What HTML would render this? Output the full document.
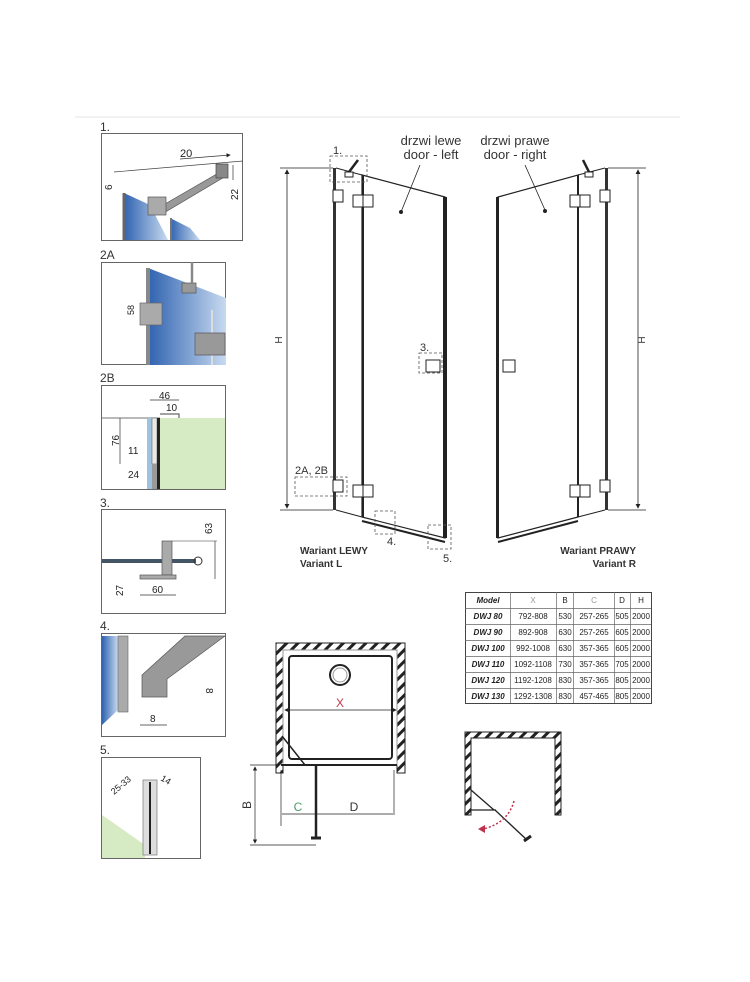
<!DOCTYPE html>
<html><head><meta charset="utf-8"><style>
html,body{margin:0;padding:0;background:#fff}
svg{display:block}
text{font-family:"Liberation Sans",sans-serif}
</style></head><body>
<svg width="750" height="982" viewBox="0 0 750 982" xmlns="http://www.w3.org/2000/svg">
<defs>
<linearGradient id="glass" x1="0" y1="0" x2="1" y2="0">
<stop offset="0" stop-color="#2f62b0"/><stop offset="1" stop-color="#c8daf0"/></linearGradient>
<pattern id="hatch" width="8" height="8" patternUnits="userSpaceOnUse" patternTransform="rotate(45)">
<rect width="8" height="8" fill="#fff"/><rect width="3" height="8" fill="#222"/></pattern>
<marker id="ar" markerWidth="6" markerHeight="6" refX="5" refY="3" orient="auto"><path d="M0,0 L6,3 L0,6z" fill="#222"/></marker>
<marker id="ars" markerWidth="6" markerHeight="6" refX="1" refY="3" orient="auto"><path d="M6,0 L0,3 L6,6z" fill="#222"/></marker>
</defs>
<line x1="75" y1="117" x2="680" y2="117" stroke="#e6e6e6" stroke-width="1"/>

<!-- Panel 1 -->
<text x="100" y="131" font-size="12" fill="#333">1.</text>
<rect x="101.5" y="133.5" width="141" height="107" fill="#fff" stroke="#666"/>
<polygon points="124,193 150,205 168,240 124,240" fill="url(#glass)"/>
<polygon points="170,218 190,228 200,240 170,240" fill="url(#glass)"/>
<line x1="124" y1="193" x2="124" y2="240" stroke="#666" stroke-width="3"/>
<line x1="171" y1="218" x2="171" y2="240" stroke="#777" stroke-width="2"/>
<line x1="114" y1="172" x2="243" y2="161" stroke="#444" stroke-width="0.7"/>
<polygon points="158,208 222,171 226,176 162,214" fill="#999" stroke="#555" stroke-width="0.7"/>
<rect x="148" y="197" width="18" height="18" fill="#aaa" stroke="#555" stroke-width="0.7"/>
<rect x="216" y="164" width="12" height="14" fill="#888" stroke="#444" stroke-width="0.7"/>
<line x1="180" y1="159" x2="230" y2="155" stroke="#333" stroke-width="0.7" marker-end="url(#ar)"/>
<text x="180" y="157" font-size="11" fill="#222">20</text>
<text x="112" y="190" font-size="10" fill="#222" transform="rotate(-90 112 190)">6</text>
<line x1="233" y1="165" x2="233" y2="180" stroke="#333" stroke-width="0.7"/>
<text x="238" y="200" font-size="10" fill="#222" transform="rotate(-90 238 200)">22</text>

<!-- Panel 2A -->
<text x="100" y="259" font-size="12" fill="#333">2A</text>
<rect x="101.5" y="262.5" width="124" height="102" fill="#fff" stroke="#666"/>
<polygon points="148,268 226,298 226,365 148,365" fill="url(#glass)"/>
<line x1="148" y1="268" x2="148" y2="365" stroke="#888" stroke-width="4"/>
<line x1="212" y1="310" x2="212" y2="365" stroke="#ddd" stroke-width="2"/>
<rect x="140" y="303" width="22" height="22" fill="#aaa" stroke="#666" stroke-width="0.7"/>
<rect x="182" y="283" width="14" height="10" fill="#999" stroke="#555" stroke-width="0.7"/>
<line x1="192" y1="262" x2="192" y2="283" stroke="#888" stroke-width="2.5"/>
<rect x="195" y="333" width="30" height="22" fill="#999" stroke="#555" stroke-width="0.7"/>
<text x="134" y="315" font-size="9" fill="#222" transform="rotate(-90 134 315)">58</text>

<!-- Panel 2B -->
<text x="100" y="382" font-size="12" fill="#333">2B</text>
<rect x="101.5" y="385.5" width="124" height="104" fill="#fff" stroke="#666"/>
<rect x="160" y="418" width="65" height="71" fill="#d6ebc4"/>
<line x1="102" y1="418" x2="160" y2="418" stroke="#444" stroke-width="0.8"/>
<rect x="147" y="418" width="5" height="71" fill="#9cc4e0"/>
<rect x="152" y="418" width="5" height="46" fill="#e8e8e8" stroke="#555" stroke-width="0.5"/>
<rect x="152" y="464" width="5" height="25" fill="#999"/>
<rect x="157" y="418" width="3" height="71" fill="#222"/>
<polyline points="160,414 179,414 179,418" fill="none" stroke="#444"/>
<line x1="150" y1="400" x2="179" y2="400" stroke="#333" stroke-width="0.7"/>
<text x="159" y="399" font-size="10" fill="#222">46</text>
<text x="166" y="411" font-size="10" fill="#222">10</text>
<line x1="120" y1="418" x2="120" y2="464" stroke="#333" stroke-width="0.7"/>
<text x="119" y="446" font-size="10" fill="#222" transform="rotate(-90 119 446)">76</text>
<text x="128" y="454" font-size="10" fill="#222">11</text>
<text x="128" y="478" font-size="10" fill="#222">24</text>

<!-- Panel 3 -->
<text x="100" y="507" font-size="12" fill="#333">3.</text>
<rect x="101.5" y="509.5" width="124" height="104" fill="#fff" stroke="#666"/>
<rect x="102" y="559" width="94" height="4" fill="#456" />
<circle cx="198" cy="561" r="4" fill="none" stroke="#333"/>
<rect x="162" y="541" width="10" height="34" fill="#aaa" stroke="#555" stroke-width="0.7"/>
<rect x="140" y="575" width="36" height="4" fill="#aaa" stroke="#555" stroke-width="0.7"/>
<line x1="172" y1="541" x2="217" y2="541" stroke="#333" stroke-width="0.5"/>
<line x1="215" y1="541" x2="215" y2="579" stroke="#333" stroke-width="0.7"/>
<text x="212" y="534" font-size="10" fill="#222" transform="rotate(-90 212 534)">63</text>
<text x="123" y="596" font-size="10" fill="#222" transform="rotate(-90 123 596)">27</text>
<line x1="140" y1="595" x2="176" y2="595" stroke="#333" stroke-width="0.7"/>
<text x="152" y="593" font-size="10" fill="#222">60</text>

<!-- Panel 4 -->
<text x="100" y="630" font-size="12" fill="#333">4.</text>
<rect x="101.5" y="633.5" width="124" height="103" fill="#fff" stroke="#666"/>
<polygon points="102,636 118,636 118,710 102,725" fill="url(#glass)"/>
<rect x="118" y="636" width="10" height="76" fill="#aaa" stroke="#666" stroke-width="0.6"/>
<polygon points="142,675 185,636 225,636 167,679 167,697 142,697" fill="#999" stroke="#555" stroke-width="0.7"/>
<line x1="140" y1="725" x2="167" y2="725" stroke="#333" stroke-width="0.7"/>
<text x="150" y="722" font-size="10" fill="#222">8</text>
<text x="206" y="688" font-size="10" fill="#222" transform="rotate(90 206 688)">8</text>

<!-- Panel 5 -->
<text x="100" y="754" font-size="12" fill="#333">5.</text>
<rect x="101.5" y="757.5" width="99" height="101" fill="#fff" stroke="#666"/>
<polygon points="102,815 145,845 145,858 102,858" fill="#d6ebc4"/>
<rect x="143" y="780" width="14" height="75" fill="#ddd" stroke="#777" stroke-width="0.7"/>
<rect x="149" y="782" width="2" height="72" fill="#222"/>
<text x="114" y="795" font-size="9" fill="#222" transform="rotate(-40 114 795)">25-33</text>
<text x="160" y="780" font-size="9" fill="#222" transform="rotate(30 160 780)">14</text>

<!-- Left door -->
<g stroke="#222" fill="none">
<line x1="280" y1="168" x2="333" y2="168" stroke-width="0.8"/>
<line x1="280" y1="510" x2="333" y2="510" stroke-width="0.8"/>
<line x1="287" y1="170" x2="287" y2="508" stroke-width="0.8" marker-start="url(#ars)" marker-end="url(#ar)"/>
<rect x="333" y="168" width="3" height="342" fill="#333" stroke="none"/>
<line x1="336" y1="168" x2="362" y2="175"/>
<line x1="336" y1="510" x2="362" y2="517"/>
<polygon points="362,175 445,197 445,538 362,517" stroke-width="1.2"/>
<rect x="362" y="175" width="2" height="342" fill="#222" stroke="none"/>
<rect x="443" y="197" width="4" height="341" fill="#222" stroke="none"/>
<line x1="362" y1="521" x2="445" y2="542" stroke-width="2"/>
<rect x="333" y="190" width="10" height="12" fill="#fff"/>
<rect x="353" y="195" width="20" height="12" fill="#fff"/><line x1="363" y1="195" x2="363" y2="207"/>
<rect x="333" y="480" width="10" height="12" fill="#fff"/>
<rect x="353" y="485" width="20" height="12" fill="#fff"/><line x1="363" y1="485" x2="363" y2="497"/>
<rect x="426" y="360" width="14" height="12" fill="#fff"/>
<rect x="345" y="172" width="8" height="5" fill="#fff"/><line x1="349" y1="172" x2="358" y2="160" stroke-width="2.5"/>
<g stroke-dasharray="3,2" stroke="#555" stroke-width="0.8">
<rect x="330" y="156" width="37" height="26"/>
<rect x="295" y="477" width="52" height="19"/>
<rect x="419" y="353" width="23" height="20"/>
<rect x="375" y="511" width="20" height="23"/>
<rect x="428" y="525" width="23" height="24"/>
</g>
<line x1="401" y1="212" x2="420" y2="165" stroke-width="0.8"/>
<line x1="545" y1="210" x2="525" y2="165" stroke-width="0.8"/>
</g>
<circle cx="401" cy="212" r="2" fill="#222"/>
<text x="431" y="145" font-size="13" fill="#333" text-anchor="middle">drzwi lewe</text>
<text x="431" y="159" font-size="13" fill="#333" text-anchor="middle">door - left</text>
<text x="515" y="145" font-size="13" fill="#333" text-anchor="middle">drzwi prawe</text>
<text x="515" y="159" font-size="13" fill="#333" text-anchor="middle">door - right</text>
<text x="333" y="154" font-size="11" fill="#333">1.</text>
<text x="295" y="474" font-size="11" fill="#333">2A, 2B</text>
<text x="420" y="351" font-size="11" fill="#333">3.</text>
<text x="387" y="545" font-size="11" fill="#333">4.</text>
<text x="443" y="562" font-size="11" fill="#333">5.</text>
<text x="282" y="340" font-size="10" fill="#333" transform="rotate(-90 282 340)" text-anchor="middle">H</text>
<text x="300" y="554" font-size="10" font-weight="bold" fill="#333">Wariant LEWY</text>
<text x="300" y="567" font-size="10" font-weight="bold" fill="#333">Variant L</text>

<!-- Right door -->
<g stroke="#222" fill="none">
<line x1="608" y1="168" x2="646" y2="168" stroke-width="0.8"/>
<line x1="608" y1="510" x2="646" y2="510" stroke-width="0.8"/>
<line x1="638" y1="170" x2="638" y2="508" stroke-width="0.8" marker-start="url(#ars)" marker-end="url(#ar)"/>
<rect x="605" y="168" width="3" height="342" fill="#333" stroke="none"/>
<line x1="578" y1="175" x2="605" y2="168"/>
<line x1="578" y1="517" x2="605" y2="510"/>
<polygon points="498,197 578,175 578,517 498,538" stroke-width="1.2"/>
<rect x="496" y="197" width="3" height="341" fill="#222" stroke="none"/>
<rect x="577" y="175" width="2" height="342" fill="#222" stroke="none"/>
<line x1="498" y1="542" x2="578" y2="521" stroke-width="2"/>
<rect x="600" y="190" width="10" height="12" fill="#fff"/>
<rect x="570" y="195" width="20" height="12" fill="#fff"/><line x1="580" y1="195" x2="580" y2="207"/>
<rect x="600" y="480" width="10" height="12" fill="#fff"/>
<rect x="570" y="485" width="20" height="12" fill="#fff"/><line x1="580" y1="485" x2="580" y2="497"/>
<rect x="503" y="360" width="12" height="12" fill="#fff"/>
<rect x="585" y="172" width="8" height="5" fill="#fff"/><line x1="589" y1="172" x2="583" y2="160" stroke-width="2.5"/>
</g>
<circle cx="545" cy="211" r="2" fill="#222"/>
<text x="645" y="340" font-size="10" fill="#333" transform="rotate(-90 645 340)" text-anchor="middle">H</text>
<text x="636" y="554" font-size="10" font-weight="bold" fill="#333" text-anchor="end">Wariant PRAWY</text>
<text x="636" y="567" font-size="10" font-weight="bold" fill="#333" text-anchor="end">Variant R</text>

<!-- Table -->
<g font-size="8" fill="#222" text-anchor="middle">
<rect x="465.5" y="592.5" width="186" height="111" fill="#fff" stroke="#444"/>
<g stroke="#666" stroke-width="0.7">
<line x1="465" y1="608.5" x2="651" y2="608.5"/><line x1="465" y1="624.5" x2="651" y2="624.5"/>
<line x1="465" y1="640.5" x2="651" y2="640.5"/><line x1="465" y1="656.5" x2="651" y2="656.5"/>
<line x1="465" y1="672.5" x2="651" y2="672.5"/><line x1="465" y1="688.5" x2="651" y2="688.5"/>
<line x1="510.5" y1="592" x2="510.5" y2="703"/><line x1="556.5" y1="592" x2="556.5" y2="703"/>
<line x1="573.5" y1="592" x2="573.5" y2="703"/><line x1="614.5" y1="592" x2="614.5" y2="703"/>
<line x1="630.5" y1="592" x2="630.5" y2="703"/>
</g>
<text x="488" y="603" font-weight="bold" font-style="italic">Model</text><text x="533" y="603" fill="#999">X</text><text x="565" y="603">B</text><text x="594" y="603" fill="#999">C</text><text x="622" y="603">D</text><text x="641" y="603">H</text>
<text x="488" y="619" font-weight="bold" font-style="italic">DWJ 80</text><text x="533" y="619">792-808</text><text x="565" y="619">530</text><text x="594" y="619">257-265</text><text x="622" y="619">505</text><text x="641" y="619">2000</text>
<text x="488" y="635" font-weight="bold" font-style="italic">DWJ 90</text><text x="533" y="635">892-908</text><text x="565" y="635">630</text><text x="594" y="635">257-265</text><text x="622" y="635">605</text><text x="641" y="635">2000</text>
<text x="488" y="651" font-weight="bold" font-style="italic">DWJ 100</text><text x="533" y="651">992-1008</text><text x="565" y="651">630</text><text x="594" y="651">357-365</text><text x="622" y="651">605</text><text x="641" y="651">2000</text>
<text x="488" y="667" font-weight="bold" font-style="italic">DWJ 110</text><text x="533" y="667">1092-1108</text><text x="565" y="667">730</text><text x="594" y="667">357-365</text><text x="622" y="667">705</text><text x="641" y="667">2000</text>
<text x="488" y="683" font-weight="bold" font-style="italic">DWJ 120</text><text x="533" y="683">1192-1208</text><text x="565" y="683">830</text><text x="594" y="683">357-365</text><text x="622" y="683">805</text><text x="641" y="683">2000</text>
<text x="488" y="699" font-weight="bold" font-style="italic">DWJ 130</text><text x="533" y="699">1292-1308</text><text x="565" y="699">830</text><text x="594" y="699">457-465</text><text x="622" y="699">805</text><text x="641" y="699">2000</text>
</g>

<!-- Floor plan -->
<g stroke="#222" fill="none">
<path d="M276,773 V643 H405 V773 H397 V650 H283 V773 Z" fill="url(#hatch)" stroke-width="1"/>
<rect x="283" y="650" width="114" height="115" fill="#fff" stroke="#999"/>
<rect x="289" y="656" width="103" height="103" rx="3" stroke-width="2"/>
<circle cx="340" cy="675" r="10" stroke-width="2"/><circle cx="340" cy="675" r="7" stroke="#999"/>
<line x1="285" y1="710" x2="396" y2="710" stroke-width="0.8" marker-start="url(#ars)" marker-end="url(#ar)"/>
<line x1="281" y1="765" x2="397" y2="765" stroke-width="2"/>
<line x1="282" y1="736" x2="305" y2="765" stroke-width="1.5"/>
<line x1="316" y1="765" x2="316" y2="838" stroke-width="2.5"/>
<line x1="311" y1="838" x2="321" y2="838" stroke-width="3"/>
<line x1="250" y1="765" x2="276" y2="765" stroke-width="0.7"/>
<line x1="250" y1="845" x2="316" y2="845" stroke-width="0.7"/>
<line x1="255" y1="767" x2="255" y2="843" stroke-width="0.7" marker-start="url(#ars)" marker-end="url(#ar)"/>
<line x1="281" y1="770" x2="281" y2="826" stroke-width="0.7"/>
<line x1="394" y1="770" x2="394" y2="815" stroke-width="0.7"/>
<line x1="282" y1="814" x2="393" y2="814" stroke-width="0.7"/>
</g>
<text x="340" y="707" font-size="12" fill="#c23a4a" text-anchor="middle">X</text>
<text x="251" y="805" font-size="12" fill="#333" transform="rotate(-90 251 805)" text-anchor="middle">B</text>
<text x="298" y="811" font-size="12" fill="#4a9a6a" text-anchor="middle">C</text>
<text x="354" y="811" font-size="12" fill="#333" text-anchor="middle">D</text>

<!-- Small plan -->
<g stroke="#222" fill="none">
<path d="M465,815 V732 H561 V815 H555 V738 H471 V815 Z" fill="url(#hatch)" stroke-width="1"/>
<line x1="471" y1="790" x2="494" y2="810" stroke-width="1.3"/>
<line x1="471" y1="810" x2="496" y2="810" stroke-width="1.3"/>
<line x1="495" y1="810" x2="527" y2="840" stroke-width="1.3"/>
<line x1="524" y1="841" x2="531" y2="836" stroke-width="3"/>
<path d="M514,801 Q508,823 483,829" stroke="#c0304a" stroke-width="1.5" stroke-dasharray="2,2"/>
</g>
<path d="M478,829 L485,825 L485,833z" fill="#c0304a"/>
</svg>
</body></html>
